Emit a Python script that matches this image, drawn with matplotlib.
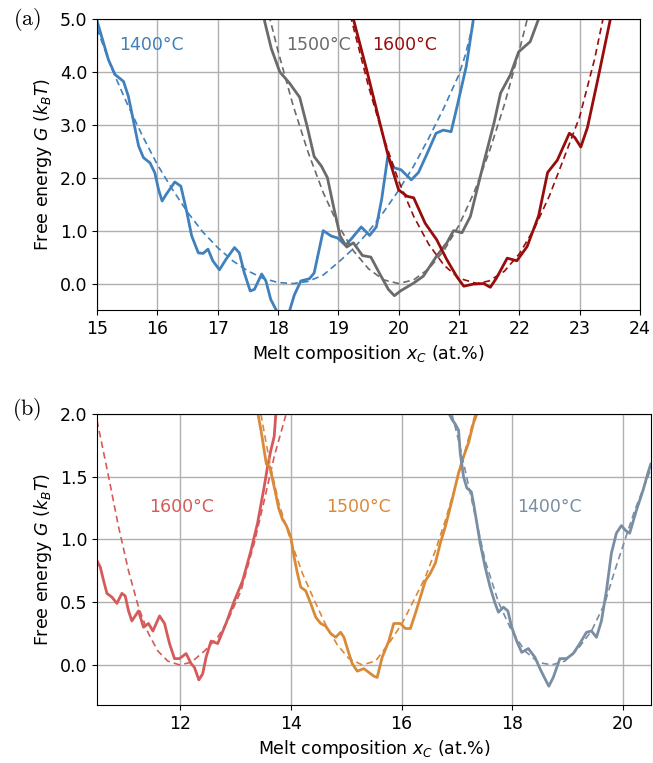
import matplotlib
matplotlib.use("Agg")
import matplotlib.pyplot as plt
from matplotlib.ticker import FormatStrFormatter

plt.rcParams['mathtext.fontset'] = 'dejavusans'

# ---- panel (a) data ----
a_blue_x = [15.0, 15.19, 15.30, 15.44, 15.52, 15.60, 15.69, 15.77, 15.88, 15.96, 16.02, 16.08,
            16.15, 16.29, 16.39, 16.48, 16.57, 16.68, 16.76, 16.84, 16.92, 17.03, 17.14, 17.28,
            17.36, 17.44, 17.54, 17.61, 17.73, 17.80, 17.88, 17.98, 18.08, 18.18, 18.27, 18.38,
            18.52, 18.60, 18.75, 18.88, 18.99, 19.12, 19.22, 19.38, 19.52, 19.63, 19.72, 19.82,
            19.92, 20.04, 20.21, 20.33, 20.47, 20.62, 20.74, 20.87, 20.98, 21.12, 21.24, 21.30]
a_blue_g = [4.97, 4.23, 3.95, 3.82, 3.54, 3.10, 2.60, 2.38, 2.28, 2.09, 1.78, 1.56,
            1.69, 1.92, 1.84, 1.40, 0.90, 0.58, 0.57, 0.65, 0.43, 0.26, 0.46, 0.68,
            0.58, 0.21, -0.14, -0.11, 0.18, 0.05, -0.30, -0.52, -0.60, -0.56, -0.22, 0.05,
            0.09, 0.20, 1.00, 0.90, 0.86, 0.72, 0.85, 1.07, 0.91, 1.07, 1.60, 2.40,
            2.19, 2.15, 1.96, 2.10, 2.45, 2.84, 2.90, 2.87, 3.40, 4.10, 5.00, 5.40]
a_blue_fit_x = [15.0, 15.25, 15.5, 15.75, 16.0, 16.25, 16.5, 16.75, 17.0, 17.25, 17.5, 17.75,
                18.0, 18.25, 18.5, 18.75, 19.0, 19.25, 19.5, 19.75, 20.0, 20.25, 20.5, 20.75,
                21.0, 21.1, 21.2, 21.27]
a_blue_fit_g = [4.82, 4.05, 3.40, 2.80, 2.25, 1.78, 1.35, 0.98, 0.68, 0.43, 0.24, 0.10,
                0.02, 0.0, 0.04, 0.16, 0.40, 0.66, 0.98, 1.35, 1.76, 2.22, 2.75, 3.32,
                3.95, 4.30, 4.75, 5.05]

a_gray_x = [17.76, 17.78, 17.89, 18.03, 18.19, 18.36, 18.49, 18.60, 18.72, 18.82, 18.92, 19.03,
            19.14, 19.25, 19.40, 19.54, 19.68, 19.83, 19.93, 20.03, 20.25, 20.41, 20.63, 20.80,
            20.91, 21.05, 21.19, 21.41, 21.58, 21.69, 21.85, 21.99, 22.18, 22.32, 22.36]
a_gray_g = [5.10, 4.95, 4.44, 4.00, 3.79, 3.52, 2.94, 2.40, 2.22, 2.00, 1.46, 0.90,
            0.69, 0.77, 0.53, 0.50, 0.20, -0.11, -0.23, -0.14, 0.01, 0.14, 0.52, 0.77,
            1.00, 0.96, 1.27, 2.28, 3.03, 3.60, 3.94, 4.38, 4.57, 5.00, 5.20]
a_gray_fit_x = [17.85, 18.0, 18.25, 18.5, 18.75, 19.0, 19.25, 19.5, 19.75, 20.0, 20.25, 20.5,
                20.75, 21.0, 21.25, 21.5, 21.75, 22.0, 22.15]
a_gray_fit_g = [5.08, 4.40, 3.37, 2.48, 1.72, 1.10, 0.62, 0.28, 0.07, 0.0, 0.07, 0.28,
                0.62, 1.10, 1.72, 2.48, 3.37, 4.40, 5.08]

a_red_x = [19.22, 19.25, 19.47, 19.69, 19.83, 20.00, 20.14, 20.25, 20.44, 20.63, 20.80, 20.97,
           21.08, 21.24, 21.41, 21.52, 21.62, 21.80, 21.96, 22.13, 22.32, 22.47, 22.63, 22.83,
           22.92, 23.02, 23.13, 23.30, 23.51, 23.55]
a_red_g = [5.20, 5.00, 4.04, 3.03, 2.40, 1.77, 1.65, 1.62, 1.14, 0.83, 0.45, 0.12,
           -0.05, -0.01, 0.0, -0.07, 0.10, 0.48, 0.43, 0.70, 1.28, 2.10, 2.33, 2.84,
           2.76, 2.58, 2.95, 3.85, 5.00, 5.20]
a_red_fit_x = [19.2, 19.5, 19.75, 20.0, 20.25, 20.5, 20.75, 21.0, 21.3, 21.5, 21.75, 22.0,
               22.25, 22.5, 22.75, 23.0, 23.25, 23.4]
a_red_fit_g = [5.07, 3.73, 2.76, 1.94, 1.27, 0.74, 0.35, 0.10, 0.0, 0.05, 0.23, 0.56,
               1.04, 1.66, 2.40, 3.15, 4.25, 5.07]

# ---- panel (b) data ----
b_red_x = [10.50, 10.56, 10.62, 10.68, 10.77, 10.86, 10.95, 11.01, 11.07, 11.13, 11.25, 11.34,
           11.43, 11.51, 11.63, 11.72, 11.81, 11.90, 11.99, 12.11, 12.20, 12.26, 12.34, 12.41,
           12.47, 12.56, 12.68, 12.83, 12.98, 13.13, 13.28, 13.40, 13.52, 13.58, 13.64, 13.70,
           13.73, 13.75]
b_red_g = [0.83, 0.78, 0.67, 0.57, 0.54, 0.49, 0.57, 0.55, 0.43, 0.35, 0.43, 0.30,
           0.33, 0.27, 0.39, 0.33, 0.17, 0.05, 0.05, 0.09, 0.01, -0.02, -0.12, -0.07,
           0.06, 0.19, 0.17, 0.33, 0.51, 0.67, 0.91, 1.13, 1.42, 1.58, 1.71, 1.82,
           2.00, 2.10]
b_red_fit_x = [10.50, 10.71, 10.89, 11.07, 11.25, 11.43, 11.60, 11.78, 11.99, 12.20, 12.44, 12.68,
               12.86, 13.10, 13.34, 13.52, 13.70, 13.91]
b_red_fit_g = [1.95, 1.50, 1.10, 0.75, 0.46, 0.25, 0.11, 0.03, 0.0, 0.02, 0.11, 0.22,
               0.35, 0.59, 0.97, 1.31, 1.66, 1.99]

b_orange_x = [13.40, 13.47, 13.53, 13.56, 13.62, 13.66, 13.72, 13.78, 13.85, 13.92, 14.00, 14.06,
              14.12, 14.18, 14.27, 14.36, 14.45, 14.54, 14.63, 14.72, 14.81, 14.90, 14.96, 15.05,
              15.11, 15.20, 15.32, 15.41, 15.50, 15.56, 15.65, 15.77, 15.86, 15.98, 16.07, 16.16,
              16.25, 16.34, 16.43, 16.52, 16.61, 16.70, 16.79, 16.91, 17.03, 17.12, 17.21, 17.30,
              17.36, 17.38]
b_orange_g = [2.02, 1.85, 1.68, 1.60, 1.58, 1.50, 1.38, 1.25, 1.16, 1.11, 1.02, 0.86,
              0.73, 0.62, 0.59, 0.49, 0.38, 0.33, 0.31, 0.25, 0.22, 0.26, 0.22, 0.09,
              0.01, -0.05, -0.03, -0.06, -0.09, -0.10, 0.06, 0.19, 0.33, 0.33, 0.29, 0.29,
              0.41, 0.54, 0.67, 0.73, 0.81, 0.97, 1.10, 1.31, 1.53, 1.66, 1.77, 1.93,
              2.00, 2.05]
b_orange_fit_x = [13.46, 13.55, 13.64, 13.79, 14.0, 14.21, 14.42, 14.63, 14.84, 15.05, 15.29, 15.53,
                  15.77, 16.01, 16.25, 16.43, 16.61, 16.79, 16.97, 17.15, 17.33, 17.36]
b_orange_fit_g = [2.0, 1.78, 1.57, 1.28, 0.99, 0.73, 0.52, 0.32, 0.16, 0.05, 0.0, 0.03,
                  0.17, 0.33, 0.54, 0.70, 0.91, 1.15, 1.42, 1.71, 2.0, 2.05]

b_slate_x = [16.86, 16.92, 16.97, 17.03, 17.06, 17.12, 17.18, 17.26, 17.30, 17.36, 17.42, 17.51,
             17.60, 17.69, 17.75, 17.84, 17.92, 17.99, 18.08, 18.17, 18.29, 18.41, 18.50, 18.59,
             18.66, 18.74, 18.86, 18.98, 19.10, 19.22, 19.34, 19.43, 19.52, 19.61, 19.70, 19.79,
             19.88, 19.97, 20.05, 20.12, 20.24, 20.36, 20.45, 20.50]
b_slate_g = [2.00, 1.95, 1.92, 1.87, 1.69, 1.50, 1.41, 1.38, 1.29, 1.13, 0.97, 0.78,
             0.62, 0.49, 0.42, 0.46, 0.43, 0.30, 0.19, 0.10, 0.13, 0.06, -0.03, -0.11,
             -0.17, -0.10, 0.05, 0.05, 0.09, 0.17, 0.26, 0.27, 0.22, 0.35, 0.59, 0.89,
             1.05, 1.11, 1.07, 1.05, 1.23, 1.39, 1.53, 1.60]
b_slate_fit_x = [16.91, 17.03, 17.27, 17.51, 17.75, 17.99, 18.23, 18.47, 18.71, 18.95, 19.19, 19.43,
                 19.67, 19.85, 20.03, 20.21, 20.45, 20.50]
b_slate_fit_g = [2.0, 1.79, 1.31, 0.83, 0.50, 0.27, 0.11, 0.02, 0.0, 0.03, 0.13, 0.27,
                 0.49, 0.75, 0.99, 1.23, 1.50, 1.56]

c_blue = '#3f80bd'
c_gray = '#6b6b6b'
c_dred = '#980c0c'
c_red = '#d65a5a'
c_orange = '#d98a38'
c_slate = '#7a8ea3'

fig = plt.figure(figsize=(6.53, 7.63), dpi=100)
ax1 = fig.add_axes([0.1485, 0.5937, 0.8315, 0.3814])
ax2 = fig.add_axes([0.1485, 0.0760, 0.8480, 0.3814])

fs = 12.5

# panel (a)
for xs, gs, fx, fg, c in [(a_blue_x, a_blue_g, a_blue_fit_x, a_blue_fit_g, c_blue),
                          (a_gray_x, a_gray_g, a_gray_fit_x, a_gray_fit_g, c_gray),
                          (a_red_x, a_red_g, a_red_fit_x, a_red_fit_g, c_dred)]:
    ax1.plot(fx, fg, '--', color=c, lw=1.2, dashes=(4, 2.5))
    ax1.plot(xs, gs, '-', color=c, lw=2.0)
ax1.set_xlim(15, 24)
ax1.set_ylim(-0.5, 5.0)
ax1.set_xticks(range(15, 25))
ax1.set_yticks([0, 1, 2, 3, 4, 5])
ax1.yaxis.set_major_formatter(FormatStrFormatter('%.1f'))
ax1.grid(True, color='#b0b0b0', lw=1.0)
ax1.set_axisbelow(True)
ax1.text(15.9, 4.5, '1400°C', color=c_blue, fontsize=fs, ha='center', va='center')
ax1.text(18.67, 4.5, '1500°C', color=c_gray, fontsize=fs, ha='center', va='center')
ax1.text(20.1, 4.5, '1600°C', color=c_dred, fontsize=fs, ha='center', va='center')
ax1.set_xlabel(r'Melt composition $x_C$ (at.%)', fontsize=fs)
ax1.set_ylabel(r'Free energy $G$ ($k_BT$)', fontsize=fs)

# panel (b)
for xs, gs, fx, fg, c in [(b_red_x, b_red_g, b_red_fit_x, b_red_fit_g, c_red),
                          (b_orange_x, b_orange_g, b_orange_fit_x, b_orange_fit_g, c_orange),
                          (b_slate_x, b_slate_g, b_slate_fit_x, b_slate_fit_g, c_slate)]:
    ax2.plot(fx, fg, '--', color=c, lw=1.2, dashes=(4, 2.5))
    ax2.plot(xs, gs, '-', color=c, lw=2.0)
ax2.set_xlim(10.5, 20.5)
ax2.set_ylim(-0.32, 2.0)
ax2.set_xticks([12, 14, 16, 18, 20])
ax2.set_yticks([0.0, 0.5, 1.0, 1.5, 2.0])
ax2.yaxis.set_major_formatter(FormatStrFormatter('%.1f'))
ax2.grid(True, color='#b0b0b0', lw=1.0)
ax2.set_axisbelow(True)
ax2.text(12.03, 1.26, '1600°C', color=c_red, fontsize=fs, ha='center', va='center')
ax2.text(15.23, 1.26, '1500°C', color=c_orange, fontsize=fs, ha='center', va='center')
ax2.text(18.67, 1.26, '1400°C', color=c_slate, fontsize=fs, ha='center', va='center')
ax2.set_xlabel(r'Melt composition $x_C$ (at.%)', fontsize=fs)
ax2.set_ylabel(r'Free energy $G$ ($k_BT$)', fontsize=fs)

for ax in (ax1, ax2):
    ax.tick_params(labelsize=fs)

fig.text(0.041, 0.974, r'$\mathrm{(a)}$', fontsize=16, ha='center', va='center',
         math_fontfamily='cm')
fig.text(0.041, 0.463, r'$\mathrm{(b)}$', fontsize=16, ha='center', va='center',
         math_fontfamily='cm')

fig.savefig('out.png', dpi=100)
